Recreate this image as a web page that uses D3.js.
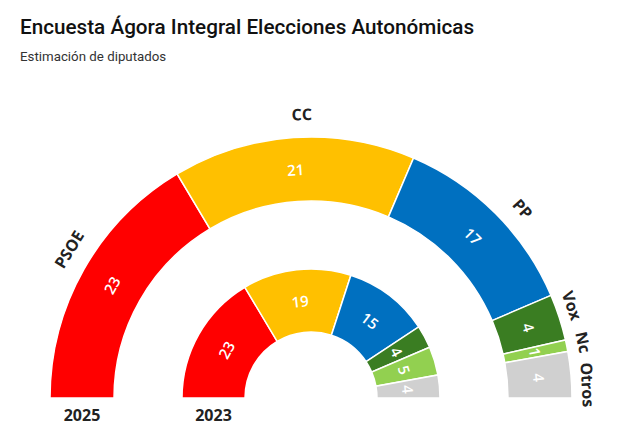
<!DOCTYPE html>
<html>
<head>
<meta charset="utf-8">
<script src="https://cdn.jsdelivr.net/npm/d3@7"></script>
<style>
  body { margin: 0; background: #fff; }
  svg { display: block; }
</style>
</head>
<body>
<script>
const parties = ["PSOE", "CC", "PP", "Vox", "Nc", "Otros"];
const colors = ["#ff0000", "#ffc000", "#0070c0", "#3a7d22", "#92d050", "#d0d0d0"];
const seats2025 = [23, 21, 17, 4, 1, 4];
const seats2023 = [23, 19, 15, 4, 5, 4];
const years = ["2025", "2023"];

const width = 629, height = 432;
const cx = 311, cy = 398;

const svg = d3.select("body").append("svg")
  .attr("width", width)
  .attr("height", height);

svg.append("text")
  .attr("x", 20).attr("y", 34)
  .attr("font-family", "Roboto, sans-serif")
  .attr("font-weight", 500)
  .attr("font-size", 20.7)
  .attr("fill", "#111")
  .text("Encuesta Ágora Integral Elecciones Autonómicas");

svg.append("text")
  .attr("x", 20).attr("y", 61)
  .attr("font-family", "Roboto, sans-serif")
  .attr("font-size", 13.3)
  .attr("fill", "#333")
  .text("Estimación de diputados");

const pie = d3.pie()
  .sort(null)
  .startAngle(-Math.PI / 2)
  .endAngle(Math.PI / 2);

const rings = [
  {year: years[0], values: seats2025, r0: 197, r1: 261},
  {year: years[1], values: seats2023, r0: 66, r1: 129}
];

const g = svg.append("g").attr("transform", `translate(${cx},${cy})`);
const deg = a => a * 180 / Math.PI;

rings.forEach(ring => {
  const arcs = pie(ring.values);
  const arc = d3.arc().innerRadius(ring.r0).outerRadius(ring.r1);

  g.selectAll(null)
    .data(arcs)
    .join("path")
    .attr("d", arc)
    .attr("fill", (d, i) => colors[i])
    .attr("stroke", "#fff")
    .attr("stroke-width", 1.5);

  // seat counts, tangential
  g.selectAll(null)
    .data(arcs)
    .join("text")
    .attr("transform", d => {
      const [x, y] = arc.centroid(d);
      const a = (d.startAngle + d.endAngle) / 2;
      return `translate(${x},${y}) rotate(${deg(a)})`;
    })
    .attr("text-anchor", "middle")
    .attr("dominant-baseline", "central")
    .attr("font-family", "'Open Sans', sans-serif")
    .attr("font-weight", 600)
    .attr("font-size", 15)
    .attr("fill", "#fff")
    .text(d => d.data);

  // year under the left end of the band
  svg.append("text")
    .attr("x", cx - (ring.r0 + ring.r1) / 2)
    .attr("y", 421)
    .attr("text-anchor", "middle")
    .attr("font-family", "'Open Sans', sans-serif")
    .attr("font-weight", 700)
    .attr("font-size", 16)
    .attr("fill", "#222")
    .text(ring.year);
});

// party names around the outer ring
const nudge = [2, 2, 3.2, -1.5, 0, 2.4];
const labelR = [284, 284, 284, 277, 278, 277];
pie(seats2025).forEach((d, i) => {
  const a = (d.startAngle + d.endAngle) / 2 + nudge[i] * Math.PI / 180;
  const x = labelR[i] * Math.sin(a), y = -labelR[i] * Math.cos(a);
  g.append("text")
    .attr("transform", `translate(${x},${y}) rotate(${deg(a)})`)
    .attr("text-anchor", "middle")
    .attr("dominant-baseline", "central")
    .attr("font-family", "'Open Sans', sans-serif")
    .attr("font-weight", 700)
    .attr("font-size", 16)
    .attr("fill", "#222")
    .text(parties[i]);
});
</script>
</body>
</html>
